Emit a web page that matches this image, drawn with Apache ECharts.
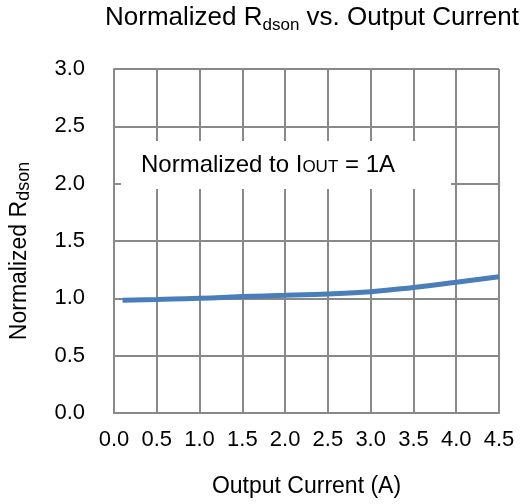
<!DOCTYPE html>
<html>
<head>
<meta charset="utf-8">
<script src="https://cdn.jsdelivr.net/npm/echarts@6/dist/echarts.min.js"></script>
<style>html,body{margin:0;padding:0;background:#fff;}#c{width:520px;height:504px;}</style>
</head>
<body>
<div id="c"></div>
<script>
const xValues = [0.1, 0.5, 1.0, 1.5, 2.0, 2.5, 3.0, 3.5, 4.0, 4.5];
const rdson = [0.983, 0.99, 1.0, 1.015, 1.027, 1.038, 1.058, 1.095, 1.14, 1.188];
const titleText = ['Normalized R', 'dson', ' vs. Output Current'];
const yName = ['Normalized R', 'dson'];
const xName = 'Output Current (A)';
const noteText = ['Normalized to I', 'OUT', ' = 1A'];

const FF = '"Liberation Sans", Arial, sans-serif';
const GRID = '#898989';
const chart = echarts.init(document.getElementById('c'), null, {renderer: 'canvas'});
chart.setOption({
  backgroundColor: '#fff',
  animation: false,
  title: [{
    text: '{m|' + titleText[0] + '}{s|' + titleText[1] + '}{m|' + titleText[2] + '}',
    left: 307, top: 1, textAlign: 'center',
    textStyle: {
      fontWeight: 'normal',
      rich: {
        m: {fontFamily: FF, fontSize: 26, fontWeight: 'normal', lineHeight: 28, color: '#000', verticalAlign: 'bottom', padding: [0,0,3,0]},
        s: {fontFamily: FF, fontSize: 17, fontWeight: 'normal', lineHeight: 18, color: '#000', verticalAlign: 'bottom'}
      }
    }
  }, {
    text: '{m|' + noteText[0] + '}{s|' + noteText[1] + '}{m|' + noteText[2] + '}',
    left: 121, top: 141,
    padding: [12, 56, 12, 20],
    backgroundColor: '#fff',
    textStyle: {
      fontWeight: 'normal',
      rich: {
        m: {fontFamily: FF, fontSize: 24, fontWeight: 'normal', lineHeight: 24, color: '#000', verticalAlign: 'bottom'},
        s: {fontFamily: FF, fontSize: 17, fontWeight: 'normal', lineHeight: 17, color: '#000', verticalAlign: 'bottom', padding: [0,0,1,0]}
      }
    }
  }],
  grid: {left: 112, right: 21, top: 69, bottom: 91, containLabel: false},
  xAxis: {
    type: 'value', min: 0, max: 4.5, interval: 0.5,
    name: xName, nameLocation: 'middle', nameGap: 62,
    nameTextStyle: {fontFamily: FF, fontSize: 23, color: '#000'},
    axisLine: {show: true, lineStyle: {color: GRID, width: 2}},
    axisTick: {show: false},
    axisLabel: {margin: 16, fontFamily: FF, fontSize: 22, color: '#000', formatter: v => v.toFixed(1)},
    splitLine: {show: true, lineStyle: {color: GRID, width: 2}}
  },
  yAxis: {
    type: 'value', min: 0, max: 3, interval: 0.5,
    name: '{m|' + yName[0] + '}{s|' + yName[1] + '}', nameLocation: 'middle', nameGap: 81,
    nameTextStyle: {
      rich: {
        m: {fontFamily: FF, fontSize: 23, lineHeight: 25, color: '#000', verticalAlign: 'bottom', padding: [0,0,2,0]},
        s: {fontFamily: FF, fontSize: 18, lineHeight: 19, color: '#000', verticalAlign: 'bottom', padding: [0,20,0,0]}
      }
    },
    axisLine: {show: true, lineStyle: {color: GRID, width: 2}},
    axisTick: {show: false},
    axisLabel: {margin: 29, fontFamily: FF, fontSize: 22, color: '#000', formatter: v => v.toFixed(1)},
    splitLine: {show: true, lineStyle: {color: GRID, width: 2}}
  },
  series: [{
    type: 'line',
    data: xValues.map((x, i) => [x, rdson[i]]),
    smooth: true,
    showSymbol: false,
    lineStyle: {color: '#4a7ebb', width: 5},
    z: 3
  }]
});
</script>
</body>
</html>
